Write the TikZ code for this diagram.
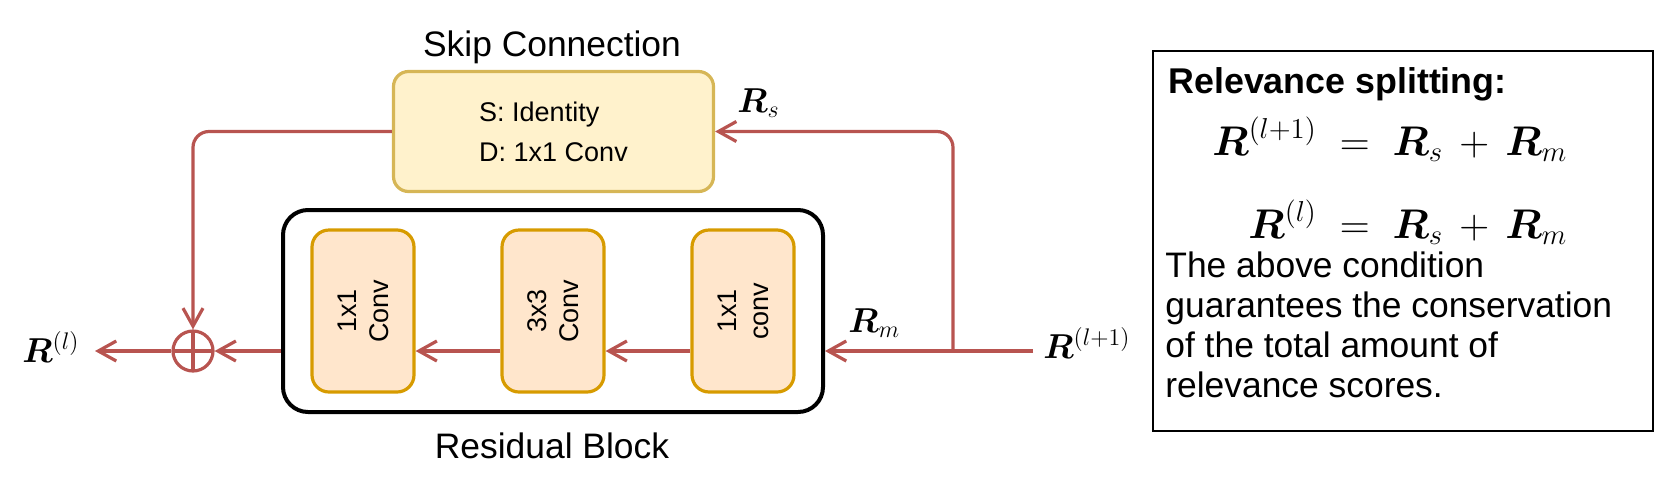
\documentclass[tikz,border=0pt]{standalone}
\usepackage{amsmath,bm}
\usepackage[no-math]{fontspec}
\setmainfont{Liberation Sans}
\usepackage{tikz}
\usetikzlibrary{arrows.meta,positioning}
\definecolor{flowred}{HTML}{B85450}
\definecolor{skipfill}{HTML}{FFF2CC}
\definecolor{skipline}{HTML}{D6B656}
\definecolor{convfill}{HTML}{FFE6CC}
\definecolor{convline}{HTML}{D79B00}
\newcommand{\lbltext}{\fontsize{17.7}{20}\selectfont}
\newcommand{\smalltext}{\fontsize{13.5}{20}\selectfont}
\newcommand{\mathtext}{\fontsize{18}{20}\selectfont}
\tikzset{%
    flow/.style={draw=flowred, line width=1.6pt,
        -{Straight Barb[length=9pt,width=10pt]}},
    skipbox/.style={draw=skipline, fill=skipfill, line width=1.6pt,
        rounded corners=7.5pt, minimum width=160pt, minimum height=60pt,
        align=left, font=\smalltext},
    convbox/.style={draw=convline, fill=convfill, line width=1.6pt,
        rounded corners=8.5pt, minimum width=51pt, minimum height=81pt},
    convtext/.style={rotate=90, align=center, inner sep=0pt,
        font=\fontsize{13.5}{16}\selectfont},
    resblock/.style={draw=black, line width=2pt, rounded corners=12.5pt,
        minimum width=270pt, minimum height=101pt},
    plusnode/.style={circle, draw=flowred, line width=1.6pt, minimum size=20pt,
        inner sep=0pt,
        path picture={\draw[flowred, line width=1.6pt]
            (path picture bounding box.north) -- (path picture bounding box.south)
            (path picture bounding box.west) -- (path picture bounding box.east);}},
    notebox/.style={draw=black, line width=1pt, minimum width=250pt,
        minimum height=190pt},
    lbl/.style={inner sep=0pt, font=\lbltext},
    mlbl/.style={inner sep=0pt, font=\mathtext}
}

\begin{document}
\begin{tikzpicture}[x=0.5pt, y=-0.5pt]
    \useasboundingbox (0,0) rectangle (1674,488);
    % residual block
    \node[resblock] (res) at (553,311) {};
    \node[convbox] (c1) at (363,311) {};
    \node[convbox] (c2) at (553,311) {};
    \node[convbox] (c3) at (743,311) {};
    \node[convtext] at (c1) {1x1\\Conv};
    \node[convtext] at (c2) {3x3\\Conv};
    \node[convtext] at (c3) {1x1\\conv};
    \node[lbl, anchor=base] (restitle) at (552,458) {Residual Block};
    % skip connection
    \node[skipbox] (skip) at (553.5,131.5) {S: Identity\\D: 1x1 Conv};
    \node[lbl, anchor=base] (skiptitle) at (552,56) {Skip Connection};
    \node[plusnode] (plus) at (193,351) {};
    % in and out
    \coordinate (inbeg) at (1033,351);
    \coordinate (split) at (953,351);
    \coordinate (outend) at (95,351);
    \node[mlbl, anchor=base west] (rin) at (1043,358) {$\bm{R}^{(l+1)}$};
    \node[mlbl, anchor=base west] (rout) at (22,362) {$\bm{R}^{(l)}$};
    \node[mlbl, anchor=base west] (rs) at (737,112) {$\bm{R}_s$};
    \node[mlbl, anchor=base west] (rm) at (848,332) {$\bm{R}_m$};
    \draw[flow] (inbeg) -- (inbeg -| res.east);
    \draw[flow, rounded corners=8pt] (split) |- (skip.east);
    \draw[flow] (c3.west |- plus) -- (c2.east |- plus);
    \draw[flow] (c2.west |- plus) -- (c1.east |- plus);
    \draw[flow] (res.west |- plus) -- (plus.east);
    \draw[flow, rounded corners=8pt] (skip.west) -| (plus.north);
    \draw[flow] (plus.west) -- (outend);
    % note on the right
    \node[notebox] (note) at (1403,241) {};
    \node[inner sep=0pt, anchor=base west, font=\fontsize{17.9}{22}\selectfont]
        (notehead) at (1168,93) {\textbf{Relevance splitting:}};
    \node[inner sep=0pt, anchor=west, font=\fontsize{20}{24}\selectfont] (eqs) at (1212,185)
        {$\begin{aligned}
            \bm{R}^{(l+1)} &\;=\; \bm{R}_s \,+\, \bm{R}_m\\[11pt]
            \bm{R}^{(l)} &\;=\; \bm{R}_s \,+\, \bm{R}_m
        \end{aligned}$};
    \node[lbl, anchor=base west, align=left] (notebody) at (1165,397)
        {The above condition\\guarantees the conservation\\of the total amount of\\relevance scores.};
\end{tikzpicture}
\end{document}
